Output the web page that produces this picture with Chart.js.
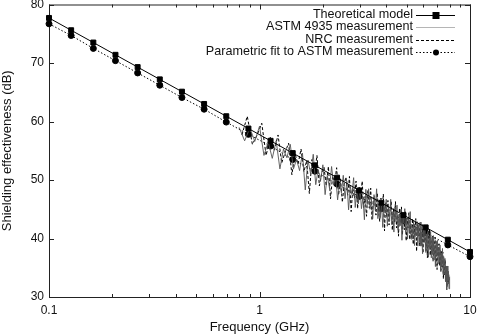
<!DOCTYPE html>
<html>
<head>
<meta charset="utf-8">
<script src="https://cdn.jsdelivr.net/npm/chart.js@4/dist/chart.umd.min.js"></script>
<style>
html,body{margin:0;padding:0;background:#fff;}
#wrap{width:480px;height:336px;}
</style>
</head>
<body>
<div id="wrap"><canvas id="c" width="480" height="336"></canvas></div>
<script>
// ---- data ----
const markerFreq = [0.1, 0.1274, 0.1624, 0.2069, 0.2637, 0.336, 0.4281, 0.5456, 0.6952, 0.8859,
  1.1288, 1.4384, 1.833, 2.336, 2.976, 3.793, 4.833, 6.158, 7.848, 10];
const theoretical = [77.7, 75.6, 73.5, 71.4, 69.3, 67.2, 65.1, 63.0, 60.9, 58.8,
  56.7, 54.6, 52.5, 50.4, 48.2, 46.1, 44.0, 41.9, 39.8, 37.7];
const paramFit = [76.7, 74.7, 72.5, 70.4, 68.3, 66.2, 64.1, 62.1, 59.9, 57.8,
  55.8, 53.5, 51.5, 49.3, 47.2, 45.1, 43.1, 41.0, 38.9, 36.9];

const astmFreq = [0.80,0.85,0.90,0.95,1.00,1.05,1.10,1.15,1.20,1.25,1.30,1.35,1.40,1.45,1.50,1.55,1.60,1.65,1.70,1.75,
  1.80,1.85,1.90,1.95,2.00,2.05,2.10,2.15,2.20,2.25,2.30,2.35,2.40,2.45,2.50,2.55,2.60,2.65,2.70,2.75,
  2.80,2.85,2.90,2.95,3.00,3.05,3.10,3.15,3.20,3.25,3.30,3.35,3.40,3.45,3.50,3.55,3.60,3.65,3.70,3.75,
  3.80,3.85,3.90,3.95,4.00,4.05,4.10,4.15,4.20,4.25,4.30,4.35,4.40,4.45,4.50,4.55,4.60,4.65,4.70,4.75,
  4.80,4.85,4.90,4.95,5.00,5.05,5.10,5.15,5.20,5.25,5.30,5.35,5.40,5.45,5.50,5.55,5.60,5.65,5.70,5.75,
  5.80,5.85,5.90,5.95,6.00,6.05,6.10,6.15,6.20,6.25,6.30,6.35,6.40,6.45,6.50,6.55,6.60,6.65,6.70,6.75,
  6.80,6.85,6.90,6.95,7.00,7.05,7.10,7.15,7.20,7.25,7.30,7.35,7.40,7.45,7.50,7.55,7.60,7.65,7.70,7.75,
  7.80,7.85,7.90,7.95,8.00];
const astmSE = [59.0,56.7,58.9,56.6,59.2,54.2,56.5,53.7,56.7,51.9,55.3,53.8,56.1,51.9,53.5,51.6,54.6,48.3,53.4,51.0,
  54.4,49.2,51.8,49.9,52.6,47.5,50.8,48.6,52.3,49.1,50.6,46.6,49.5,47.8,50.8,46.8,49.8,44.9,48.9,47.5,
  50.4,45.3,48.5,45.9,48.7,45.1,47.1,43.2,48.4,45.8,48.5,45.0,46.7,43.4,47.5,44.8,48.5,43.4,45.6,43.6,
  46.3,41.9,45.8,44.3,46.7,42.1,45.7,43.0,46.7,42.4,44.5,41.1,45.4,42.9,45.7,41.4,44.1,42.2,45.0,39.7,
  44.0,42.6,45.1,41.1,43.4,39.9,43.5,41.0,44.6,39.9,42.1,39.9,43.0,38.8,42.1,40.5,42.9,38.7,42.1,39.3,
  42.8,38.7,41.1,37.4,41.9,39.5,42.0,37.9,40.8,38.5,41.2,36.8,40.1,38.3,41.2,36.7,40.2,37.3,40.5,36.4,
  38.8,35.2,39.5,37.1,39.7,35.7,38.5,36.0,38.9,34.4,37.5,35.5,38.3,33.8,36.9,33.9,36.6,32.6,35.3,31.2,
  35.3,32.8,34.4,31.4,33.5];

const nrcFreq = [0.825,0.875,0.925,0.975,1.025,1.075,1.125,1.175,1.225,1.275,1.325,1.375,1.425,1.475,1.525,1.575,1.625,1.675,1.725,1.775,
  1.825,1.875,1.925,1.975,2.025,2.075,2.125,2.175,2.225,2.275,2.325,2.375,2.425,2.475,2.525,2.575,2.625,2.675,2.725,2.775,
  2.825,2.875,2.925,2.975,3.025,3.075,3.125,3.175,3.225,3.275,3.325,3.375,3.425,3.475,3.525,3.575,3.625,3.675,3.725,3.775,
  3.825,3.875,3.925,3.975,4.025,4.075,4.125,4.175,4.225,4.275,4.325,4.375,4.425,4.475,4.525,4.575,4.625,4.675,4.725,4.775,
  4.825,4.875,4.925,4.975,5.025,5.075,5.125,5.175,5.225,5.275,5.325,5.375,5.425,5.475,5.525,5.575,5.625,5.675,5.725,5.775,
  5.825,5.875,5.925,5.975,6.025,6.075,6.125,6.175,6.225,6.275,6.325,6.375,6.425,6.475,6.525,6.575,6.625,6.675,6.725,6.775,
  6.825,6.875,6.925,6.975,7.025,7.075,7.125,7.175,7.225,7.275,7.325,7.375,7.425,7.475,7.525,7.575,7.625,7.675,7.725,7.775,
  7.825,7.875,7.925,7.975];
const nrcSE = [57.7,60.9,56.1,57.7,59.7,54.2,57.3,55.1,57.7,52.9,54.8,56.3,50.9,54.5,52.7,55.3,51.4,53.3,47.7,53.5,
  51.0,54.2,49.0,51.2,52.2,49.0,52.3,46.8,50.7,49.5,52.1,47.4,50.2,46.2,49.3,50.5,47.4,50.6,44.6,48.6,
  46.9,49.8,45.1,48.8,46.9,49.8,45.3,47.2,43.8,48.3,45.2,48.6,43.1,46.9,47.2,44.0,47.8,44.8,42.9,46.9,
  44.8,47.6,41.3,46.1,43.6,46.5,42.3,45.0,46.3,41.4,45.1,42.7,46.3,41.8,44.0,40.4,45.2,42.6,45.4,40.6,
  43.9,41.5,44.6,39.6,43.5,41.8,44.4,39.8,42.4,40.0,43.4,39.0,42.5,40.3,43.4,37.8,42.4,40.4,42.6,38.7,
  41.2,39.0,42.4,37.5,41.3,39.3,41.6,37.6,40.6,36.7,41.1,38.6,41.5,37.1,39.8,37.4,40.3,36.1,39.6,37.2,
  40.2,35.8,38.5,34.7,39.0,36.9,39.1,35.4,38.0,34.3,37.8,35.1,37.7,33.1,36.4,33.6,36.3,32.8,35.2,31.7,
  34.8,32.2,33.8,32.5];

const xTickValues = [0.1, 1, 10];
const xTickLabels = ['0.1', '1', '10'];
const yTickValues = [30, 40, 50, 60, 70, 80];
const seriesNames = ['Theoretical model', 'ASTM 4935 measurement', 'NRC measurement', 'Parametric fit to ASTM measurement'];

// ---- helpers ----
const pts = (xs, ys) => xs.map((x, i) => ({x: x, y: ys[i]}));
const FONT = 'Liberation Sans, Arial, Helvetica, sans-serif';

const framePlugin = {
  id: 'frame',
  beforeDatasetsDraw(chart) {
    const {ctx, chartArea: a, scales: {x, y}} = chart;
    ctx.save();
    ctx.strokeStyle = '#222';
    ctx.lineWidth = 1;
    ctx.strokeRect(a.left + 0.5, a.top + 0.5, a.right - a.left, a.bottom - a.top);
    ctx.beginPath();
    yTickValues.forEach(v => {
      const py = Math.round(y.getPixelForValue(v)) + 0.5;
      ctx.moveTo(a.left, py); ctx.lineTo(a.left + 5, py);
      ctx.moveTo(a.right, py); ctx.lineTo(a.right - 5, py);
    });
    [0.1, 1, 10].forEach(dec => {
      for (let m = 1; m <= 9; m++) {
        const v = dec * m;
        if (v < 0.1 || v > 10) continue;
        const len = m === 1 ? 5 : 3;
        const px = Math.round(x.getPixelForValue(v)) + 0.5;
        ctx.moveTo(px, a.bottom); ctx.lineTo(px, a.bottom - len);
        ctx.moveTo(px, a.top); ctx.lineTo(px, a.top + len);
      }
    });
    ctx.stroke();
    ctx.restore();
  },
  afterDraw(chart) {
    const {ctx} = chart;
    ctx.save();
    ctx.font = '12.6px ' + FONT;
    ctx.fillStyle = '#111';
    ctx.textAlign = 'right';
    ctx.textBaseline = 'middle';
    const rows = [15, 27, 40, 52];
    const x0 = 416, x1 = 455, xm = 436, tx = 413;
    seriesNames.forEach((n, i) => ctx.fillText(n, tx, rows[i]));
    const legendColors = ['#000', '#b5b5b5', '#000', '#000'];
    const ds = chart.data.datasets;
    ds.forEach((d, i) => {
      const yy = rows[i] + 0.5;
      ctx.beginPath();
      ctx.strokeStyle = legendColors[i];
      ctx.lineWidth = 1;
      ctx.setLineDash(d.borderDash || []);
      ctx.moveTo(x0, yy); ctx.lineTo(x1, yy);
      ctx.stroke();
      ctx.setLineDash([]);
      if (d.pointRadius > 0) {
        ctx.fillStyle = '#000';
        if (d.pointStyle === 'rect') {
          ctx.fillRect(xm - 3.5, yy - 3.5, 7, 7);
        } else {
          ctx.beginPath(); ctx.arc(xm, yy, 3, 0, Math.PI * 2); ctx.fill();
        }
      }
    });
    ctx.restore();
  }
};

new Chart(document.getElementById('c'), {
  type: 'scatter',
  data: {
    datasets: [
      {label: seriesNames[0], data: pts(markerFreq, theoretical), showLine: true,
       borderColor: '#000', backgroundColor: '#000', borderWidth: 1,
       pointStyle: 'rect', pointRadius: 3.5, clip: false},
      {label: seriesNames[1], data: pts(astmFreq, astmSE), showLine: true,
       borderColor: '#555', borderWidth: 0.9, pointRadius: 0},
      {label: seriesNames[2], data: pts(nrcFreq, nrcSE), showLine: true,
       borderColor: '#000', borderWidth: 1, borderDash: [3, 2], pointRadius: 0},
      {label: seriesNames[3], data: pts(markerFreq, paramFit), showLine: true,
       borderColor: '#000', backgroundColor: '#000', borderWidth: 1, borderDash: [1.5, 2],
       pointStyle: 'circle', pointRadius: 3, clip: false}
    ]
  },
  options: {
    responsive: false,
    animation: false,
    layout: {padding: {top: 4, right: 10, left: 0, bottom: 0}},
    elements: {line: {tension: 0}, point: {borderWidth: 0, hoverRadius: 3}},
    plugins: {legend: {display: false}, tooltip: {enabled: false}},
    scales: {
      x: {
        type: 'logarithmic', min: 0.1, max: 10,
        afterBuildTicks: s => { s.ticks = xTickValues.map(v => ({value: v})); },
        ticks: {
          autoSkip: false, maxRotation: 0, padding: 6, color: '#111',
          font: {family: FONT, size: 12},
          callback: (v) => { const i = xTickValues.indexOf(v); return i >= 0 ? xTickLabels[i] : ''; }
        },
        grid: {display: false, drawTicks: false},
        border: {display: false},
        title: {display: true, text: 'Frequency (GHz)', color: '#111',
                font: {family: FONT, size: 13}, padding: {top: 0, bottom: 1}},
        afterFit: s => { s.height = 39; s.paddingLeft = 0; s.paddingRight = 0; }
      },
      y: {
        min: 30, max: 80,
        afterBuildTicks: s => { s.ticks = yTickValues.map(v => ({value: v})); },
        ticks: {padding: 5, color: '#111', font: {family: FONT, size: 12}},
        grid: {display: false, drawTicks: false},
        border: {display: false},
        title: {display: true, text: 'Shielding effectiveness (dB)', color: '#111',
                font: {family: FONT, size: 13}, padding: {top: 0, bottom: 1}},
        afterFit: s => { s.width = 49; s.paddingTop = 0; s.paddingBottom = 0; }
      }
    }
  },
  plugins: [framePlugin]
});
</script>
</body>
</html>
